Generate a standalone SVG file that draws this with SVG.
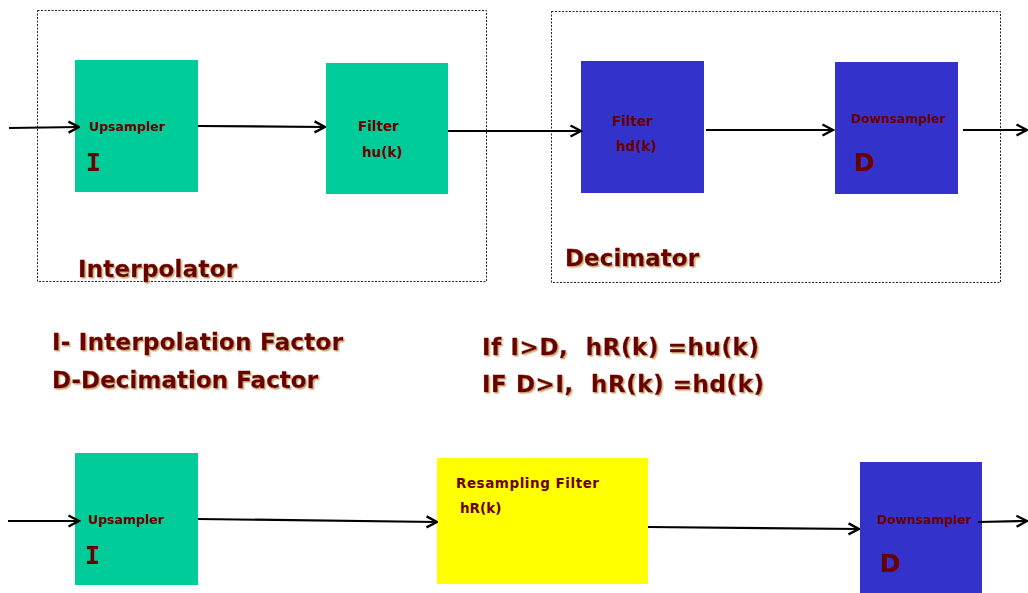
<svg xmlns="http://www.w3.org/2000/svg" width="1028" height="593" viewBox="0 0 1028 593">
  <defs>
    <marker id="arrow" viewBox="0 0 14 14" refX="12.5" refY="7" markerWidth="14" markerHeight="14" markerUnits="userSpaceOnUse" orient="auto">
      <path d="M2,1.5 L12.5,7 L2,12.5" fill="none" stroke="#000" stroke-width="2.4"/>
    </marker>
    <filter id="shadow" x="-5%" y="-20%" width="110%" height="140%">
      <feDropShadow dx="1.5" dy="1.5" stdDeviation="0.6" flood-color="#c89a5a" flood-opacity="0.8"/>
    </filter>
  </defs>
  <style>
    .group { fill: none; stroke: #222; stroke-width: 1; stroke-dasharray: 2 1.5; }
    .green { fill: #00cc99; }
    .blue { fill: #3333cc; }
    .yellow { fill: #ffff00; }
    text { font-family: "DejaVu Sans", Verdana, sans-serif; font-weight: bold; fill: #6b0000; white-space: pre; }
    .small { font-size: 12.5px; }
    .label { font-size: 13.5px; }
    .tiny { font-size: 12.3px; }
    .big { font-size: 25px; }
    .mono { font-family: "DejaVu Sans Mono", monospace; }
    .title { font-size: 23px; filter: url(#shadow); stroke: #6b0000; stroke-width: 0.3; }
    .note { font-size: 23px; filter: url(#shadow); stroke: #6b0000; stroke-width: 0.3; }
    .wire { fill: none; stroke: #000; stroke-width: 2.2; marker-end: url(#arrow); }
  </style>
  <rect width="1028" height="593" fill="#fff"/>

  <!-- dashed stage outlines -->
  <g id="interpolator">
    <rect class="group" x="37.5" y="10.5" width="449" height="271"/>
    <text class="title" x="78" y="277" textLength="159">Interpolator</text>
  </g>
  <g id="decimator">
    <rect class="group" x="551.5" y="11.5" width="449" height="271"/>
    <text class="title" x="565" y="266" textLength="134">Decimator</text>
  </g>

  <!-- top chain -->
  <g id="upsampler-top">
    <rect class="green" x="75" y="60" width="123" height="132"/>
    <text class="small" x="89" y="131">Upsampler</text>
    <text class="big mono" x="86" y="171">I</text>
  </g>
  <g id="filter-hu">
    <rect class="green" x="326" y="63" width="122" height="131"/>
    <text class="label" x="358" y="131">Filter</text>
    <text class="label" x="362" y="157">hu(k)</text>
  </g>
  <g id="filter-hd">
    <rect class="blue" x="581" y="61" width="123" height="132"/>
    <text class="label" x="612" y="126">Filter</text>
    <text class="label" x="616" y="151">hd(k)</text>
  </g>
  <g id="downsampler-top">
    <rect class="blue" x="835" y="62" width="123" height="132"/>
    <text class="tiny" x="851" y="123">Downsampler</text>
    <text class="big" x="854" y="171">D</text>
  </g>

  <!-- legend and filter rule -->
  <g id="legend">
    <text class="note" x="52" y="350" textLength="291">I- Interpolation Factor</text>
    <text class="note" x="52" y="388" textLength="266">D-Decimation Factor</text>
  </g>
  <g id="rule">
    <text class="note" x="482" y="355" textLength="277">If I&gt;D,  hR(k) =hu(k)</text>
    <text class="note" x="482" y="392" textLength="282">IF D&gt;I,  hR(k) =hd(k)</text>
  </g>

  <!-- bottom chain -->
  <g id="upsampler-bottom">
    <rect class="green" x="75" y="453" width="123" height="132"/>
    <text class="small" x="88" y="524">Upsampler</text>
    <text class="big mono" x="85" y="564">I</text>
  </g>
  <g id="resampling-filter">
    <rect class="yellow" x="437" y="458" width="211" height="126"/>
    <text class="label" x="456" y="488" textLength="143">Resampling Filter</text>
    <text class="label" x="460" y="513">hR(k)</text>
  </g>
  <g id="downsampler-bottom">
    <rect class="blue" x="860" y="462" width="122" height="131"/>
    <text class="tiny" x="877" y="524">Downsampler</text>
    <text class="big" x="880" y="572">D</text>
  </g>

  <!-- signal flow -->
  <g id="connectors">
    <path class="wire" d="M9,128 L79,127"/>
    <path class="wire" d="M198,126 L325,127"/>
    <path class="wire" d="M448,131 L581,131"/>
    <path class="wire" d="M706,130 L833,130"/>
    <path class="wire" d="M963,130 L1027,130"/>
    <path class="wire" d="M8,521 L79,521"/>
    <path class="wire" d="M198,519 L437,522"/>
    <path class="wire" d="M648,527 L859,529"/>
    <path class="wire" d="M978,522 L1027,521"/>
  </g>
</svg>
